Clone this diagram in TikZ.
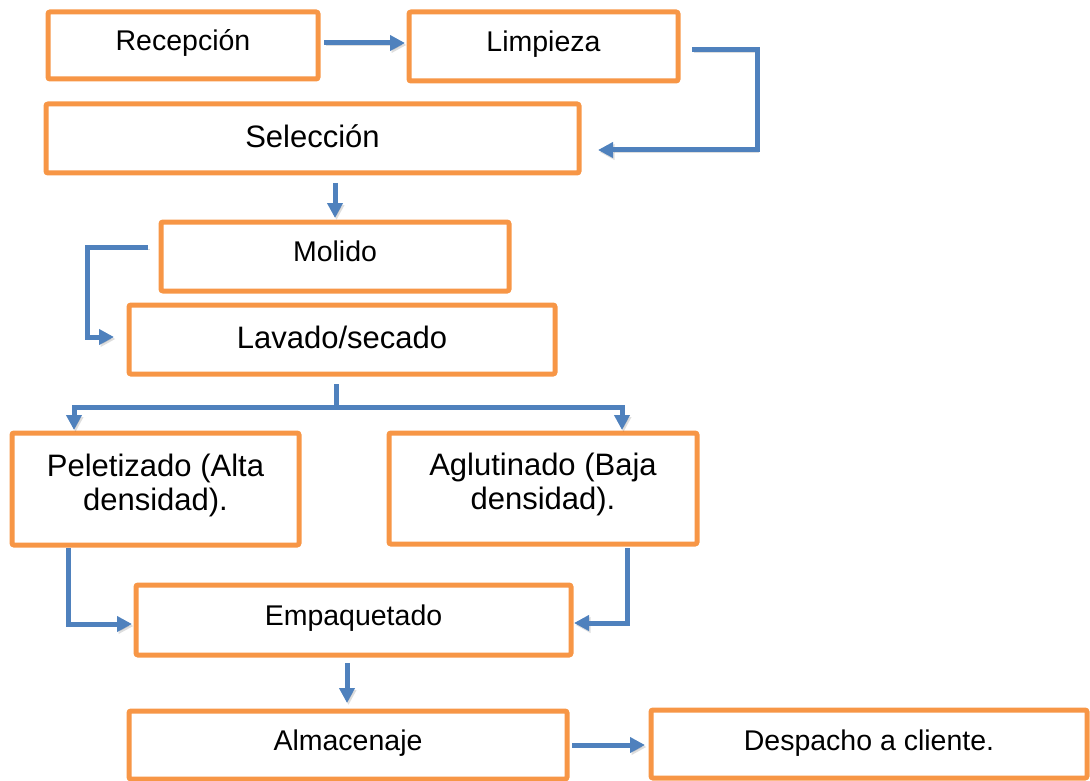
\documentclass[tikz,border=0pt]{standalone}
\usepackage{fontspec}
\setmainfont{Liberation Sans}
\usetikzlibrary{arrows.meta}
\definecolor{boxor}{HTML}{F79646}
\definecolor{arrbl}{HTML}{4F81BD}
\newcommand{\btx}[2]{\raisebox{#1}[0pt][0pt]{#2}}
\newcommand{\twol}[2]{\begin{tabular}[b]{@{}c@{}}#1\\#2\end{tabular}}
\begin{document}
\begin{tikzpicture}[x=1pt,y=-1pt,
  stepbox/.style={draw=boxor, line width=5pt, rounded corners=2pt, inner sep=0pt, outer sep=0pt, fill=white},
  smalltxt/.style={font=\fontsize{28.5}{34}\selectfont},
  bigtxt/.style={font=\fontsize{31}{34}\selectfont},
  shade/.style={preaction={draw=black, opacity=0.13, transform canvas={shift={(1.5pt,-2pt)}}}},
  link/.style={draw=arrbl, line width=5pt, shade},
  conn/.style={link, -{Triangle[length=15pt,width=15pt]}}]
\useasboundingbox (0,0) rectangle (1090,781);

% boxes
\node[stepbox, smalltxt, minimum width=270pt, minimum height=67pt] (rec) at (183,45.5) {\btx{-5pt}{Recepción}};
\node[stepbox, smalltxt, minimum width=269pt, minimum height=69pt] (lim) at (543.5,46.5) {\btx{-5pt}{Limpieza}};
\node[stepbox, bigtxt, minimum width=533pt, minimum height=69pt] (sel) at (312.5,138.5) {\btx{-9pt}{Selección}};
\node[stepbox, smalltxt, minimum width=348pt, minimum height=69pt] (mol) at (335,256.5) {\btx{-4.5pt}{Molido}};
\node[stepbox, bigtxt, minimum width=426pt, minimum height=69pt] (lav) at (342,339.5) {\btx{-8.5pt}{Lavado/secado}};
\node[stepbox, bigtxt, minimum width=287pt, minimum height=112pt] (pel) at (155.5,489) {\btx{-21pt}{\twol{Peletizado (Alta}{densidad).}}};
\node[stepbox, bigtxt, minimum width=308pt, minimum height=111pt] (agl) at (543,488.5) {\btx{-21pt}{\twol{Aglutinado (Baja}{densidad).}}};
\node[stepbox, smalltxt, minimum width=435pt, minimum height=70pt] (emp) at (353.5,620) {\btx{-5pt}{Empaquetado}};
\node[stepbox, smalltxt, minimum width=438pt, minimum height=68pt] (alm) at (348,745) {\btx{-5pt}{Almacenaje}};
\node[stepbox, smalltxt, minimum width=436pt, minimum height=68pt] (des) at (869,744) {\btx{-6pt}{Despacho a cliente.}};

% connectors
\draw[conn] ([xshift=6pt,yshift=2.5pt]rec.east) -- ([xshift=-4pt,yshift=2.5pt]rec.east -| lim.west);
\draw[conn] ([xshift=14pt,yshift=-3.5pt]lim.east) -- ++(65,0) |- ([xshift=19pt,yshift=-11.5pt]sel.east);
\draw[conn] ([yshift=-10pt]sel.south -| mol.north) -- ([yshift=4pt]mol.north);
\draw[conn] ([xshift=-13pt,yshift=9.5pt]mol.west) -- ++(-61,0) |- ([xshift=-15pt,yshift=2.5pt]lav.west);
\coordinate (fork) at ([xshift=-6pt,yshift=-33pt]lav.south);
\draw[link] ([xshift=-6pt,yshift=-10pt]lav.south) -- (fork);
\draw[conn] (fork) -| ([xshift=-81.5pt,yshift=3pt]pel.north);
\draw[conn] (fork) -| ([xshift=79pt,yshift=3pt]agl.north);
\draw[conn] ([xshift=-87.5pt,yshift=-3pt]pel.south) |- ([xshift=-4pt,yshift=-4pt]emp.west);
\draw[conn] ([xshift=84pt,yshift=-4pt]agl.south) |- ([xshift=3pt,yshift=-3pt]emp.east);
\draw[conn] ([xshift=-6.5pt,yshift=-8pt]emp.south) -- ([xshift=-1pt,yshift=8pt]alm.north);
\draw[conn] ([xshift=5pt]alm.east) -- ([xshift=-6pt]alm.east -| des.west);
\end{tikzpicture}
\end{document}
